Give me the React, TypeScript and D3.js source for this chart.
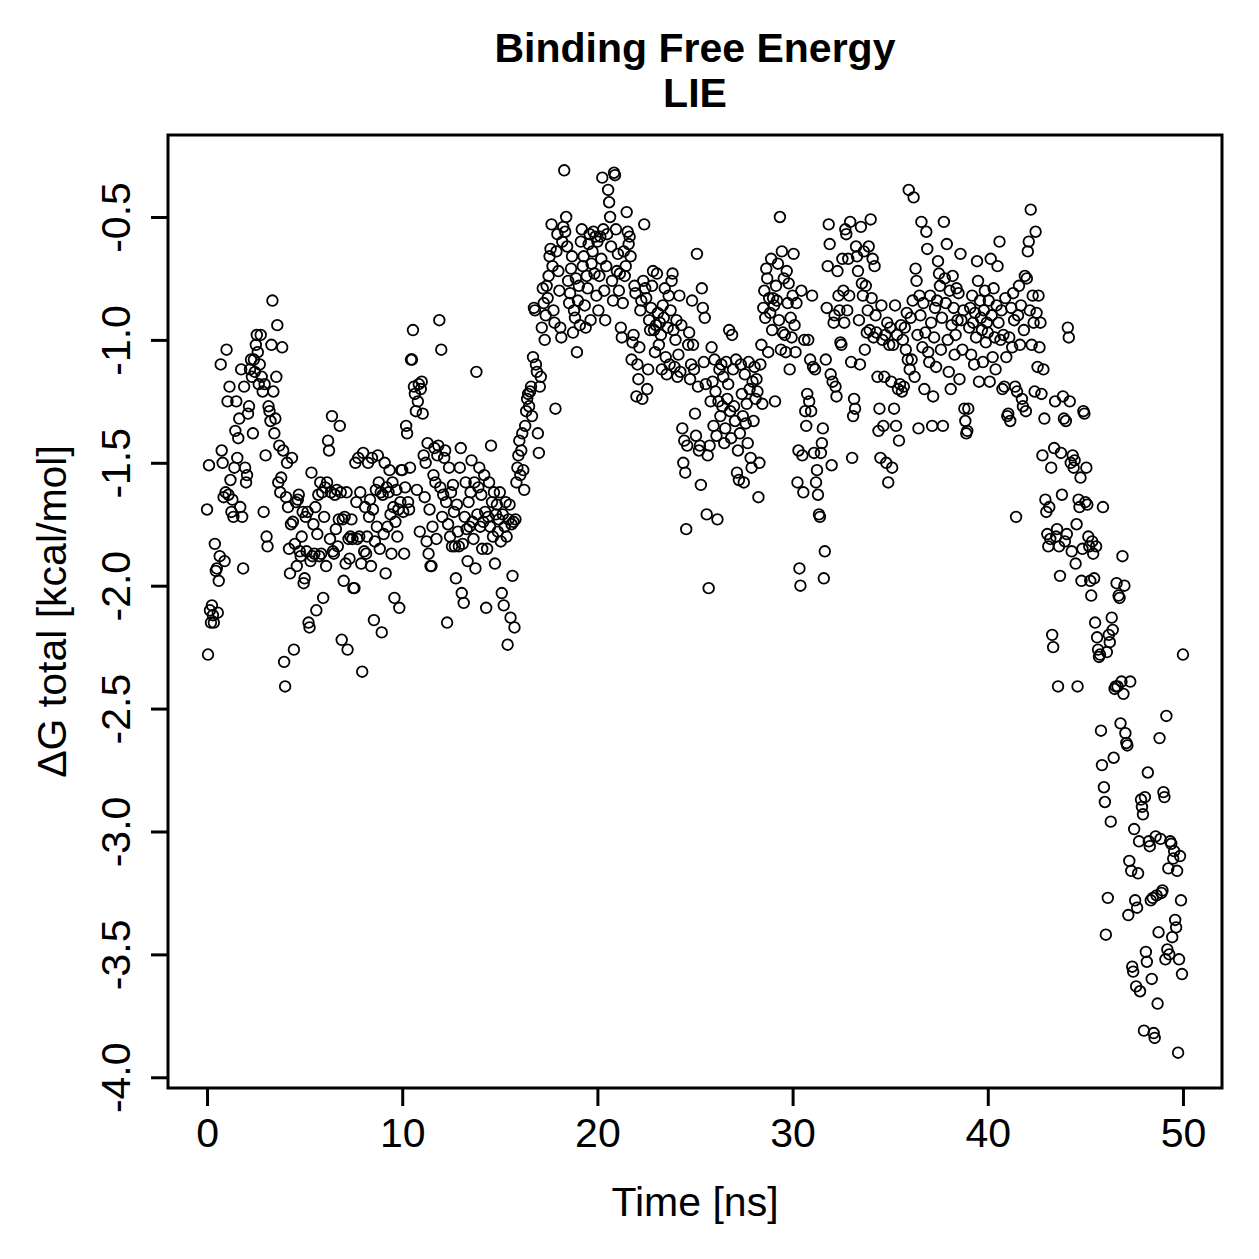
import React, { useEffect, useRef } from 'react';
import * as d3 from 'd3';

// sampling: one frame every 0.05 ns
const STEP = 0.05;

// ΔG total [kcal/mol], in 5 ns blocks
const dg00to05 = [
  -1.69, -2.28, -1.51, -2.10, -2.15, -2.08, -2.12, -2.15, -1.83, -1.94,
  -1.93, -2.11, -1.98, -1.88, -1.10, -1.45, -1.50, -1.64, -1.90, -1.62,
  -1.04, -1.25, -1.63, -1.19, -1.57, -1.70, -1.65, -1.72, -1.52, -1.37,
  -1.25, -1.48, -1.40, -1.32, -1.68, -1.12, -1.72, -1.93, -1.19, -1.52,
  -1.58, -1.55, -1.30, -1.27, -1.12, -1.08, -1.15, -1.38, -1.08, -1.13,
  -1.02, -0.98, -1.05, -1.18, -1.10, -0.98, -1.15, -1.21, -1.70, -1.18,
  -1.47, -1.80, -1.84, -1.27, -1.29, -1.33, -1.02, -0.84, -1.21, -1.38,
  -1.32, -1.15, -0.94, -1.58, -1.43, -1.62, -1.56, -1.03, -1.45, -2.31,
  -2.41, -1.64, -1.50, -1.68, -1.85, -1.95, -1.75, -1.48, -1.74, -2.26,
  -1.83, -1.66, -1.92, -1.65, -1.63, -1.86, -1.88, -1.80, -1.70, -1.99,
];

const dg05to10 = [
  -1.97, -1.72, -1.86, -1.70, -2.15, -2.17, -1.90, -1.54, -1.88, -1.75,
  -1.87, -1.68, -2.10, -1.79, -1.63, -1.88, -1.58, -1.87, -1.62, -2.05,
  -1.72, -1.60, -1.92, -1.58, -1.41, -1.45, -1.81, -1.62, -1.31, -1.86,
  -1.87, -1.63, -1.77, -1.61, -1.84, -1.73, -1.35, -1.62, -2.22, -1.73,
  -1.98, -1.72, -1.91, -1.62, -2.26, -1.81, -1.89, -1.80, -1.73, -1.81,
  -2.01, -2.01, -1.50, -1.66, -1.81, -1.48, -1.80, -1.62, -1.91, -2.35,
  -1.46, -1.86, -1.68, -1.87, -1.80, -1.50, -1.72, -1.65, -1.92, -1.48,
  -1.69, -2.14, -1.82, -1.61, -1.76, -1.47, -1.58, -1.85, -1.62, -2.19,
  -1.63, -1.79, -1.50, -1.95, -1.60, -1.76, -1.62, -1.53, -1.71, -1.87,
  -1.58, -1.68, -2.05, -1.74, -1.61, -1.80, -1.69, -2.09, -1.66, -1.53,
];

const dg10to15 = [
  -1.53, -1.70, -1.87, -1.60, -1.35, -1.38, -1.66, -1.69, -1.52, -1.08,
  -1.08, -0.96, -1.19, -1.22, -1.29, -1.61, -1.25, -1.18, -1.78, -1.20,
  -1.17, -1.30, -1.47, -1.64, -1.50, -1.82, -1.42, -1.87, -1.69, -1.92,
  -1.92, -1.76, -1.55, -1.44, -1.58, -1.81, -1.47, -1.43, -0.92, -1.60,
  -1.04, -1.72, -1.63, -1.48, -1.45, -1.66, -2.15, -1.75, -1.52, -1.80,
  -1.62, -1.84, -1.59, -1.70, -1.84, -1.97, -1.67, -1.78, -1.84, -1.52,
  -1.44, -2.03, -1.83, -2.07, -1.72, -1.58, -1.77, -1.90, -1.66, -1.76,
  -1.62, -1.49, -1.74, -1.81, -1.58, -1.93, -1.13, -1.71, -1.60, -1.52,
  -1.76, -1.63, -1.85, -1.74, -1.55, -1.70, -2.09, -1.85, -1.72, -1.58,
  -1.76, -1.43, -1.66, -1.80, -1.62, -1.91, -1.71, -1.67, -1.78, -1.73,
];

const dg15to20 = [
  -1.62, -1.82, -2.03, -1.71, -2.08, -1.76, -1.66, -1.80, -2.24, -1.73,
  -1.67, -2.13, -1.75, -1.96, -1.74, -2.17, -1.73, -1.58, -1.52, -1.47,
  -1.41, -1.55, -1.45, -1.38, -1.53, -1.61, -1.35, -1.29, -1.24, -1.22,
  -1.27, -1.21, -1.19, -1.31, -1.07, -0.87, -0.88, -1.10, -1.13, -1.38,
  -1.46, -1.19, -1.15, -0.95, -0.79, -0.85, -1.00, -0.90, -0.78, -0.83,
  -0.74, -0.66, -0.63, -0.53, -0.70, -0.88, -0.93, -1.28, -0.64, -0.57,
  -0.72, -0.80, -0.95, -0.99, -0.60, -0.54, -0.31, -0.56, -0.50, -0.62,
  -0.76, -0.85, -0.81, -0.71, -0.66, -0.97, -0.88, -0.91, -0.75, -1.05,
  -0.84, -0.78, -0.94, -0.60, -0.55, -0.70, -0.66, -0.86, -0.95, -0.74,
  -0.79, -0.61, -0.57, -0.92, -0.69, -0.64, -0.56, -0.73, -0.58, -0.82,
];

const dg20to25 = [
  -0.60, -0.88, -0.74, -0.58, -0.67, -0.34, -0.55, -0.80, -0.92, -0.70,
  -0.57, -0.39, -0.44, -0.50, -0.62, -0.76, -0.84, -0.32, -0.33, -0.55,
  -0.72, -0.65, -0.80, -0.73, -0.95, -0.99, -0.85, -0.64, -0.74, -0.70,
  -0.48, -0.56, -0.61, -0.58, -0.66, -1.08, -1.01, -0.98, -0.78, -0.81,
  -1.23, -1.10, -1.16, -1.03, -0.88, -0.84, -1.24, -0.76, -0.53, -0.79,
  -0.83, -1.20, -1.12, -0.92, -0.96, -0.87, -0.78, -0.72, -0.96, -1.05,
  -0.94, -0.73, -0.89, -1.02, -0.93, -0.98, -1.12, -0.86, -0.91, -0.79,
  -1.07, -1.14, -0.95, -0.82, -1.10, -0.88, -0.76, -0.73, -0.96, -1.11,
  -1.00, -0.92, -1.15, -1.06, -0.82, -1.13, -0.94, -1.36, -1.50, -1.41,
  -1.54, -1.77, -1.43, -1.02, -0.97, -1.16, -1.10, -0.84, -1.02, -1.12,
];

const dg25to30 = [
  -1.30, -1.39, -0.65, -1.19, -1.45, -1.43, -1.59, -0.79, -0.87, -1.09,
  -0.91, -1.18, -1.71, -1.47, -2.01, -1.43, -1.25, -1.03, -1.17, -1.35,
  -1.08, -1.21, -1.39, -1.73, -1.25, -1.12, -1.31, -1.10, -1.27, -1.15,
  -1.42, -1.36, -1.09, -1.24, -1.18, -0.96, -1.29, -1.40, -0.98, -1.12,
  -1.27, -1.33, -1.08, -1.54, -1.45, -1.57, -1.38, -1.10, -1.22, -1.31,
  -1.58, -1.14, -1.34, -1.26, -1.42, -1.09, -1.20, -1.48, -1.52, -1.17,
  -1.33, -1.11, -1.24, -1.16, -1.21, -1.64, -1.50, -1.10, -1.02, -1.26,
  -0.87, -0.80, -0.91, -0.71, -0.75, -1.05, -0.83, -0.89, -0.67, -0.96,
  -0.83, -0.86, -1.25, -0.78, -0.84, -0.69, -0.92, -0.50, -1.04, -0.64,
  -0.97, -0.75, -0.98, -1.05, -0.72, -0.85, -0.77, -1.12, -0.91, -0.99,
];

const dg30to35 = [
  -0.82, -0.65, -0.94, -1.05, -0.85, -1.58, -1.45, -1.93, -2.00, -0.80,
  -1.47, -1.62, -1.00, -1.29, -1.35, -1.22, -1.00, -1.25, -1.08, -1.29,
  -0.82, -1.11, -1.46, -1.12, -1.58, -1.53, -1.63, -1.71, -1.72, -1.46,
  -1.42, -1.36, -1.97, -1.86, -1.08, -0.87, -0.70, -0.53, -0.61, -1.14,
  -1.51, -1.17, -0.93, -0.90, -1.19, -1.23, -0.72, -0.82, -0.88, -1.01,
  -1.02, -0.67, -0.80, -0.93, -0.55, -0.57, -0.88, -0.67, -0.82, -0.52,
  -1.09, -1.48, -1.31, -1.24, -1.28, -0.62, -0.66, -0.72, -0.92, -1.10,
  -0.54, -0.77, -0.82, -0.64, -1.04, -0.78, -0.97, -0.88, -0.62, -0.96,
  -0.51, -0.83, -0.67, -0.99, -0.70, -0.90, -0.97, -1.15, -1.37, -1.28,
  -1.48, -0.86, -1.00, -1.35, -1.15, -0.98, -1.50, -0.93, -1.58, -1.02,
];

const dg35to40 = [
  -0.95, -1.17, -1.52, -1.02, -1.28, -0.86, -1.35, -0.98, -1.20, -1.41,
  -1.18, -0.94, -1.21, -1.00, -1.19, -0.95, -1.04, -0.89, -1.08, -0.39,
  -1.12, -0.91, -1.08, -0.84, -0.42, -1.15, -0.71, -0.76, -0.98, -1.36,
  -0.82, -0.90, -0.52, -1.03, -0.85, -1.20, -0.97, -0.56, -0.63, -1.05,
  -1.09, -0.82, -0.93, -1.35, -1.23, -0.99, -0.87, -1.11, -0.84, -0.68,
  -0.73, -0.78, -1.04, -0.91, -1.35, -0.52, -0.75, -0.85, -0.61, -1.00,
  -1.13, -0.80, -1.20, -0.94, -0.74, -0.87, -1.06, -0.98, -0.79, -0.92,
  -0.81, -1.16, -0.65, -0.92, -1.04, -0.88, -1.28, -1.33, -1.38, -1.37,
  -1.28, -0.95, -0.87, -1.06, -0.82, -0.93, -1.10, -0.89, -0.99, -0.68,
  -0.76, -1.17, -0.84, -0.91, -0.96, -1.09, -0.88, -0.80, -1.01, -0.93,
];

const dg40to45 = [
  -0.97, -0.84, -1.17, -0.67, -0.90, -1.07, -0.79, -0.99, -1.12, -0.86,
  -0.70, -0.93, -0.60, -1.00, -0.88, -1.20, -0.98, -1.19, -0.83, -1.07,
  -1.31, -1.30, -0.99, -1.33, -0.87, -1.03, -0.81, -0.92, -1.19, -1.72,
  -1.21, -0.90, -0.78, -1.02, -0.86, -1.24, -1.27, -0.96, -0.74, -1.29,
  -0.75, -0.64, -0.60, -0.88, -0.47, -1.02, -0.82, -0.93, -1.21, -0.56,
  -0.89, -1.11, -0.82, -1.03, -0.93, -1.22, -1.47, -1.12, -1.32, -1.65,
  -1.70, -1.79, -1.84, -1.68, -1.81, -1.52, -2.20, -2.25, -1.44, -1.25,
  -1.80, -1.77, -2.41, -1.84, -1.96, -1.46, -1.63, -1.23, -1.32, -1.82,
  -1.33, -1.79, -0.95, -0.99, -1.25, -1.50, -1.86, -1.47, -1.52, -1.49,
  -1.91, -1.75, -2.41, -1.65, -1.68, -1.56, -1.98, -1.85, -1.29, -1.30,
];

const dg45to50 = [
  -1.66, -1.52, -1.67, -1.80, -1.84, -1.98, -2.04, -1.82, -1.87, -1.97,
  -2.15, -1.84, -2.21, -2.26, -2.29, -2.28, -2.59, -2.73, -1.68, -2.82,
  -2.88, -3.42, -2.27, -3.27, -2.20, -2.23, -2.96, -2.13, -2.18, -2.70,
  -2.42, -2.41, -1.99, -2.41, -2.04, -2.05, -2.56, -2.39, -1.88, -2.44,
  -2.00, -2.60, -2.64, -2.65, -3.34, -3.12, -2.39, -3.16, -3.55, -3.57,
  -2.99, -3.28, -3.63, -3.31, -3.17, -3.04, -3.65, -2.87, -2.90, -2.93,
  -3.81, -2.86, -3.49, -3.53, -2.76, -3.04, -3.06, -3.28, -3.60, -3.27,
  -3.82, -3.84, -3.02, -3.26, -3.70, -3.41, -2.62, -3.03, -3.25, -3.24,
  -2.84, -2.86, -3.52, -2.53, -3.48, -3.15, -3.50, -3.04, -3.05, -3.43,
  -3.11, -3.08, -3.36, -3.39, -3.16, -3.90, -3.52, -3.10, -3.28, -3.58,
];

// the last frame at exactly 50 ns
const dgLast = [-2.28];

const blocks = [dg00to05, dg05to10, dg10to15, dg15to20, dg20to25,
  dg25to30, dg30to35, dg35to40, dg40to45, dg45to50];

const xTicks = [0, 10, 20, 30, 40, 50];
const yTicks = [-0.5, -1.0, -1.5, -2.0, -2.5, -3.0, -3.5, -4.0];

const titleLines = ['Binding Free Energy', 'LIE'];
const xLabel = 'Time [ns]';
const yLabel = 'ΔG total [kcal/mol]';

const W = 1259, H = 1259;
const box = { left: 168, right: 1222, top: 135, bottom: 1088 };
const FONT = '"Liberation Sans", Arial, Helvetica, sans-serif';

// R prints a plain hyphen, not the unicode minus d3 uses
const plain = (f: (n: number) => string) => (d: any) => f(+d).replace('\u2212', '-');

const App = () => {
  const ref = useRef<SVGSVGElement>(null);

  useEffect(() => {
    const points: { t: number; g: number }[] = [];
    blocks.forEach((arr, b) => {
      arr.forEach((g, i) => points.push({ t: +(b * 5 + i * STEP).toFixed(2), g }));
    });
    dgLast.forEach(g => points.push({ t: 50, g }));

    const svg = d3.select(ref.current);
    svg.selectAll('*').remove();

    // R style: 4% padding around the data range
    const [tMin, tMax] = d3.extent(points, d => d.t) as [number, number];
    const [gMin, gMax] = d3.extent(points, d => d.g) as [number, number];
    const tPad = (tMax - tMin) * 0.04;
    const gPad = (gMax - gMin) * 0.04;

    const x = d3.scaleLinear().domain([tMin - tPad, tMax + tPad]).range([box.left, box.right]);
    const y = d3.scaleLinear().domain([gMin - gPad, gMax + gPad]).range([box.bottom, box.top]);

    svg.append('rect')
      .attr('width', W).attr('height', H).attr('fill', 'white');

    // points
    svg.append('g')
      .selectAll('circle')
      .data(points)
      .enter()
      .append('circle')
      .attr('cx', d => x(d.t))
      .attr('cy', d => y(d.g))
      .attr('r', 5.3)
      .attr('fill', 'none')
      .attr('stroke', 'black')
      .attr('stroke-width', 1.8);

    // box
    svg.append('rect')
      .attr('x', box.left).attr('y', box.top)
      .attr('width', box.right - box.left).attr('height', box.bottom - box.top)
      .attr('fill', 'none').attr('stroke', 'black').attr('stroke-width', 3);

    // x axis
    const xAxis = svg.append('g')
      .attr('transform', `translate(0,${box.bottom})`)
      .call(d3.axisBottom(x).tickValues(xTicks).tickSize(18).tickPadding(12).tickFormat(plain(d3.format('d'))));
    xAxis.select('.domain').remove();
    xAxis.selectAll('line').attr('stroke-width', 3);
    xAxis.selectAll('text')
      .attr('font-family', FONT).attr('font-size', 41).attr('fill', 'black');

    // y axis, labels turned like R's las=0
    const yAxis = svg.append('g')
      .attr('transform', `translate(${box.left},0)`)
      .call(d3.axisLeft(y).tickValues(yTicks).tickSize(17).tickFormat(plain(d3.format('.1f'))));
    yAxis.select('.domain').remove();
    yAxis.selectAll('line').attr('stroke-width', 3);
    yAxis.selectAll('text')
      .attr('font-family', FONT).attr('font-size', 41).attr('fill', 'black')
      .attr('x', null).attr('dy', null)
      .attr('text-anchor', 'middle')
      .attr('transform', 'translate(-38,0) rotate(-90)');

    // titles
    const cx = (box.left + box.right) / 2;
    titleLines.forEach((line, i) => {
      svg.append('text')
        .attr('x', cx).attr('y', 62 + i * 45)
        .attr('text-anchor', 'middle')
        .attr('font-family', FONT).attr('font-weight', 'bold').attr('font-size', 41)
        .text(line);
    });

    svg.append('text')
      .attr('x', cx).attr('y', 1216)
      .attr('text-anchor', 'middle')
      .attr('font-family', FONT).attr('font-size', 41)
      .text(xLabel);

    svg.append('text')
      .attr('transform', `translate(66,${(box.top + box.bottom) / 2}) rotate(-90)`)
      .attr('text-anchor', 'middle')
      .attr('font-family', FONT).attr('font-size', 41)
      .text(yLabel);
  }, []);

  return (
    <svg ref={ref} width={W} height={H}
      style={{ position: 'absolute', left: 0, top: 0, display: 'block' }} />
  );
};

export default App;
